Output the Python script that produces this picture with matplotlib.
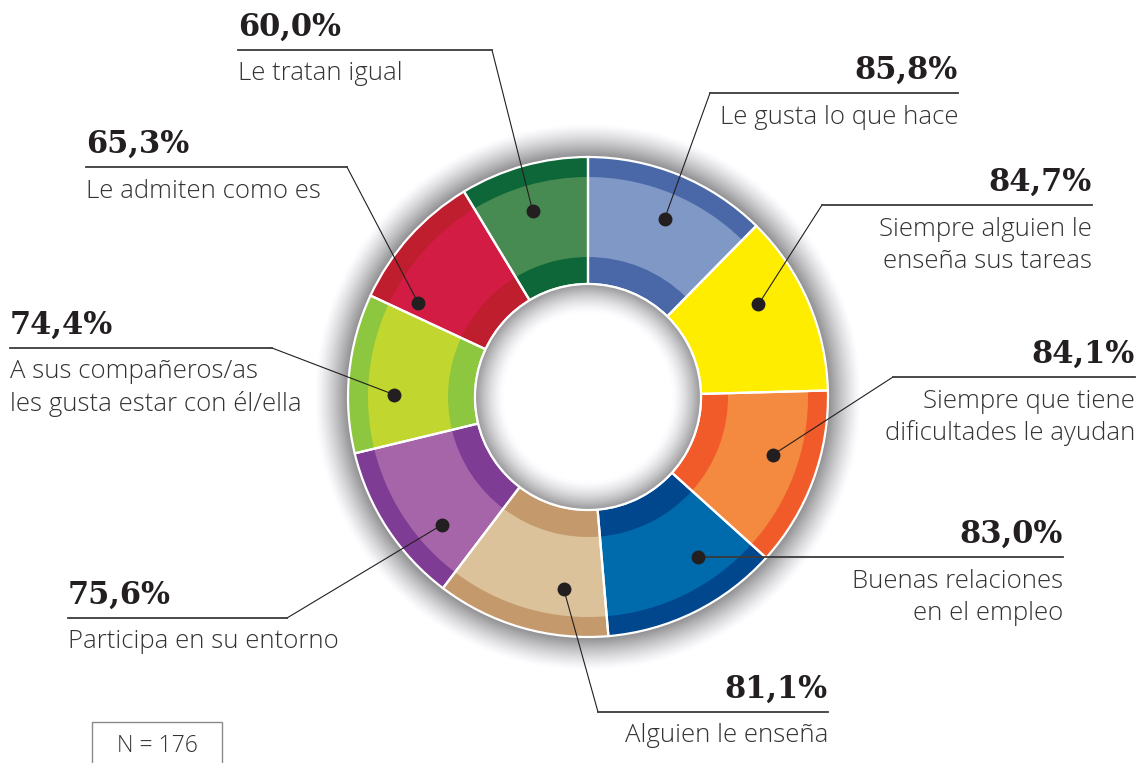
import numpy as np
import matplotlib.pyplot as plt
from matplotlib.patches import Circle, Rectangle

W, H = 1148, 763

# --- data (clockwise from the top) ---
values = [85.8, 84.7, 84.1, 83.0, 81.1, 75.6, 74.4, 65.3, 60.0]
pct_labels = ['85,8%', '84,7%', '84,1%', '83,0%', '81,1%', '75,6%', '74,4%', '65,3%', '60,0%']
descriptions = [
    ['Le gusta lo que hace'],
    ['Siempre alguien le', 'enseña sus tareas'],
    ['Siempre que tiene', 'dificultades le ayudan'],
    ['Buenas relaciones', 'en el empleo'],
    ['Alguien le enseña'],
    ['Participa en su entorno'],
    ['A sus compañeros/as', 'les gusta estar con él/ella'],
    ['Le admiten como es'],
    ['Le tratan igual'],
]
sample_note = 'N = 176'

light_colors = ['#7f98c6', '#ffed00', '#f48a40', '#006bac', '#dcc29b',
                '#a565a8', '#c1d72f', '#d31c43', '#478b53']
dark_colors = ['#4a68a7', '#ffed00', '#f15a29', '#00478e', '#c4996b',
               '#7e3c95', '#8dc63f', '#bf1e2e', '#0e6738']

# --- layout (image pixel coords, y down) ---
cx, cy = 588, 397
r_out, r_in = 240, 113
band_out, band_in = 220, 140
dot_r = 194
dot_shift = [-1, 5, 3, 8, 9, 8, 5, 13, 1]   # degrees, display ccw from wedge middle

# elbow x, elbow y (None -> same as dot), far end x of underline, side
callouts = [
    (710, 93, 958, 'right'),
    (822, 205, 1092, 'right'),
    (893, 377, 1135, 'right'),
    (None, None, 1063, 'right'),
    (598, 712, 828, 'right'),
    (287, 618, 68, 'left'),
    (272, 348, 10, 'left'),
    (347, 167, 86, 'left'),
    (492, 50, 238, 'left'),
]

ink = '#231f20'
txt_ink = '#333333'
pct_font = dict(family='DejaVu Serif', weight='bold', size=22, color=ink)
txt_font = dict(family='Open Sans', weight='light', size=18.5, color=txt_ink)

fig = plt.figure(figsize=(W / 100, H / 100), dpi=100)
ax = fig.add_axes([0, 0, 1, 1])

# outer drop shadow
for r in np.linspace(274, 241, 34):
    t = (274 - r) / 33
    g = 1 - 0.44 * t ** 1.3
    ax.add_patch(Circle((cx, cy), r, facecolor=(g, g, min(1, g + 0.012)), edgecolor='none', zorder=1))

# donut: dark ring, light middle band, white separators
# (y axis is flipped, so counterclock in data runs clockwise on screen)
wedges, _ = ax.pie(values, radius=r_out, center=(cx, cy), startangle=-90, counterclock=True,
                   colors=dark_colors, wedgeprops=dict(width=r_out - r_in, linewidth=0))
for w in wedges:
    w.set_zorder(2)
mids, _ = ax.pie(values, radius=band_out, center=(cx, cy), startangle=-90, counterclock=True,
                 colors=light_colors, wedgeprops=dict(width=band_out - band_in, linewidth=0))
for w in mids:
    w.set_zorder(3)
edges, _ = ax.pie(values, radius=r_out, center=(cx, cy), startangle=-90, counterclock=True,
                  wedgeprops=dict(width=r_out - r_in, facecolor='none', edgecolor='white', linewidth=1.6))
for w in edges:
    w.set_zorder(4)

# inner shadow in the hole
for r in np.linspace(r_in, 84, 30):
    t = (r - 84) / (r_in - 84)
    g = 1 - 0.40 * t ** 1.5
    ax.add_patch(Circle((cx, cy), r, facecolor=(g, g, min(1, g + 0.012)), edgecolor='none', zorder=5))
ax.add_patch(Circle((cx, cy), r_in, facecolor='none', edgecolor='white', linewidth=1.6, zorder=6))

# callouts
for i, w in enumerate(wedges):
    mid = 0.5 * (w.theta1 + w.theta2) - dot_shift[i]
    dx = cx + dot_r * np.cos(np.radians(mid))
    dy = cy + dot_r * np.sin(np.radians(mid))
    ex, ey, far, side = callouts[i]
    if ex is None:
        ex, ey = dx, dy
    ax.plot([dx, ex], [dy, ey], color=ink, lw=0.8, zorder=7)
    ax.plot([ex, far], [ey, ey], color='#3a3a3a', lw=1.3, zorder=7)
    ax.plot(dx, dy, 'o', color=ink, markersize=9, zorder=8)

    ha = 'right' if side == 'right' else 'left'
    ax.text(far, ey - 23, pct_labels[i], ha=ha, va='center', **pct_font)
    for j, line in enumerate(descriptions[i]):
        ax.text(far, ey + 24 + 32 * j, line, ha=ha, va='center', **txt_font)

# sample size box
ax.add_patch(Rectangle((92, 722), 130, 60, facecolor='none', edgecolor='#8a8a8a', linewidth=1.0, zorder=7))
ax.text(157, 746, sample_note, ha='center', va='center', family='Open Sans', weight='light',
        size=16.5, color=txt_ink)

ax.set_xlim(0, W)
ax.set_ylim(H, 0)
ax.set_aspect('equal')
ax.axis('off')

fig.savefig('out.png', dpi=100, facecolor='white')
